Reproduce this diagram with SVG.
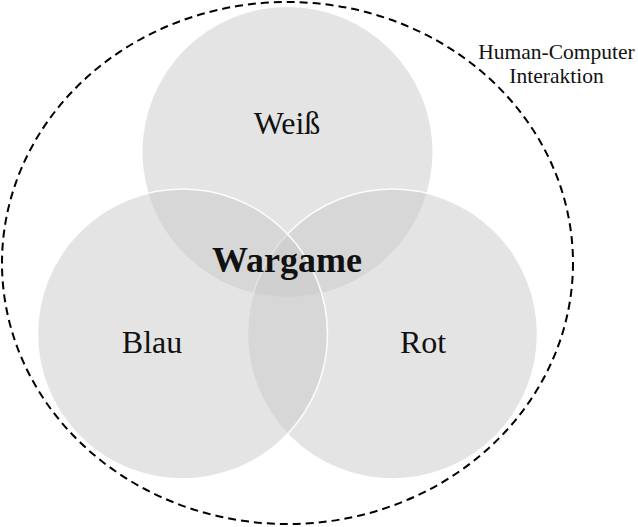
<svg xmlns="http://www.w3.org/2000/svg" width="638" height="527" viewBox="0 0 638 527">
  <style>
    .set { fill: #c9c9c9; fill-opacity: 0.5; stroke: #ffffff; stroke-width: 1.5; stroke-opacity: 0.9; }
    .top { stroke: none; }
    .lbl { font-family: "Liberation Serif", "Times New Roman", serif; fill: #111111; text-anchor: middle; }
    .big { font-size: 32px; }
    .ctr { font-size: 36px; font-weight: bold; }
    .note { font-size: 21.5px; }
  </style>
  <rect x="0" y="0" width="638" height="527" fill="#ffffff"/>
  <g id="hci">
    <ellipse cx="287.5" cy="263" rx="285.5" ry="261" fill="none" stroke="#000000" stroke-width="2" stroke-dasharray="8 5"/>
    <text class="lbl note" x="556.5" y="59">Human-Computer</text>
    <text class="lbl note" x="556.5" y="83">Interaktion</text>
  </g>
  <g id="weiss">
    <circle class="set top" cx="287.5" cy="152" r="145"/>
    <text class="lbl big" x="287" y="134">Weiß</text>
  </g>
  <g id="rot">
    <circle class="set" cx="392.5" cy="334" r="145"/>
    <text class="lbl big" x="423" y="353">Rot</text>
  </g>
  <g id="blau">
    <circle class="set" cx="182.5" cy="334" r="145"/>
    <text class="lbl big" x="152" y="353">Blau</text>
  </g>
  <g id="wargame">
    <text class="lbl ctr" x="287" y="272">Wargame</text>
  </g>
  <g id="connectors"></g>
</svg>
